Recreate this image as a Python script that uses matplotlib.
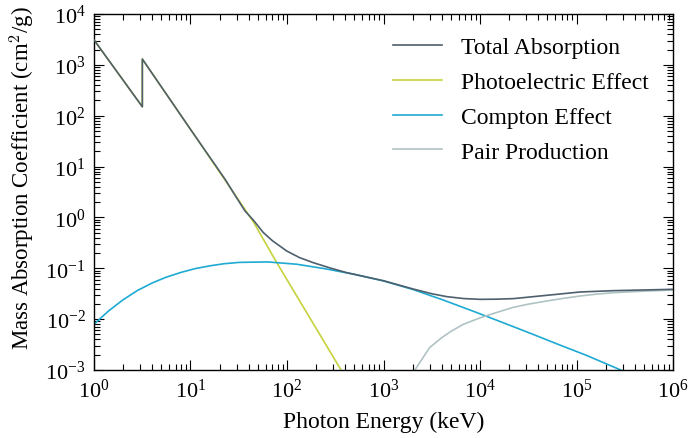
import matplotlib
import matplotlib.pyplot as plt
from matplotlib.ticker import LogLocator

matplotlib.use("Agg")

# Photon energy (keV) and mass absorption coefficients (cm^2/g)
total_energy = [1, 3.17, 3.17, 10, 22.8, 28.2, 36.7, 44.7, 56.8, 70.8, 99.3, 135, 187, 282,
                416, 631, 1000, 2000, 3160, 4520, 6760, 1e4, 1.48e4, 2.21e4, 4.91e4,
                1.09e5, 2.4e5, 1e6]
total_mu = [3100, 150, 1300, 54, 5.65, 2.95, 1.34, 0.89, 0.505, 0.347, 0.219, 0.162, 0.129,
            0.101, 0.082, 0.069, 0.0569, 0.0394, 0.0316, 0.0277, 0.0254, 0.0245, 0.0247,
            0.0253, 0.0294, 0.0342, 0.0363, 0.0386]

photo_energy = [1, 3.17, 3.17, 10, 22.7, 44.8, 76.9, 363]
photo_mu = [3100, 150, 1300, 54, 5.5, 0.82, 0.137, 0.001]

compton_energy = [1, 1.41, 2, 2.82, 4, 5.62, 8, 11.2, 16, 22.4, 32, 63, 126, 250, 500,
                  1000, 2000, 4000, 8000, 1.6e4, 3.2e4, 6.3e4, 1.26e5, 2.5e5, 5e5]
compton_mu = [0.00794, 0.0144, 0.024, 0.0366, 0.0513, 0.067, 0.0832, 0.0986, 0.112,
              0.1231, 0.1306, 0.1334, 0.1202, 0.0977, 0.0759, 0.0564, 0.0385, 0.0244,
              0.01496, 0.00904, 0.00542, 0.00325, 0.00195, 0.00112, 0.00063]

pair_energy = [2000, 3000, 3980, 5000, 6700, 1e4, 1.48e4, 2.2e4, 3.16e4, 4.9e4, 7.08e4,
               1.09e5, 1.58e5, 2.4e5, 5e5, 1e6]
pair_mu = [0.00085, 0.00275, 0.00427, 0.00575, 0.0079, 0.0106, 0.0135, 0.017, 0.0197,
           0.0227, 0.0254, 0.0285, 0.0309, 0.0331, 0.0355, 0.0374]

plt.rcParams["font.family"] = "Liberation Serif"
plt.rcParams["mathtext.fontset"] = "cm"

fig = plt.figure(figsize=(6.9, 4.39), dpi=100)
ax = fig.add_axes([0.1362, 0.1549, 0.8392, 0.8109])

ax.plot(total_energy, total_mu, color="#4e5f6d", lw=1.2, label="Total Absorption", zorder=4)
ax.plot(photo_energy, photo_mu, color="#c6d23c", lw=1.2, label="Photoelectric Effect", zorder=2)
ax.plot(compton_energy, compton_mu, color="#1eaad2", lw=1.2, label="Compton Effect", zorder=2)
ax.plot(pair_energy, pair_mu, color="#b0c3c4", lw=1.2, label="Pair Production", zorder=2)

ax.set_xscale("log")
ax.set_yscale("log")
ax.set_xlim(1, 1e6)
ax.set_ylim(1e-3, 1e4)
ax.xaxis.set_major_locator(LogLocator(base=10, numticks=20))
ax.yaxis.set_major_locator(LogLocator(base=10, numticks=20))
ax.xaxis.set_minor_locator(LogLocator(base=10, subs=range(2, 10), numticks=100))
ax.yaxis.set_minor_locator(LogLocator(base=10, subs=range(2, 10), numticks=100))

ax.tick_params(which="both", direction="in", top=True, right=True, width=0.8)
ax.tick_params(which="major", length=7.5, labelsize=16, pad=6)
ax.tick_params(which="minor", length=4)
for spine in ax.spines.values():
    spine.set_linewidth(1.0)

ax.set_xlabel("Photon Energy (keV)", fontsize=17, labelpad=7)
ax.set_ylabel("Mass Absorption Coefficient (cm$^2$/g)", fontsize=16.5)
ax.yaxis.set_label_coords(-0.098, 0.541)

ax.legend(loc="upper right", bbox_to_anchor=(0.975, 0.964), borderaxespad=0,
          frameon=False, fontsize=17, handlelength=2.08, handletextpad=0.8,
          labelspacing=0.57)

fig.savefig("out.png", dpi=100)
